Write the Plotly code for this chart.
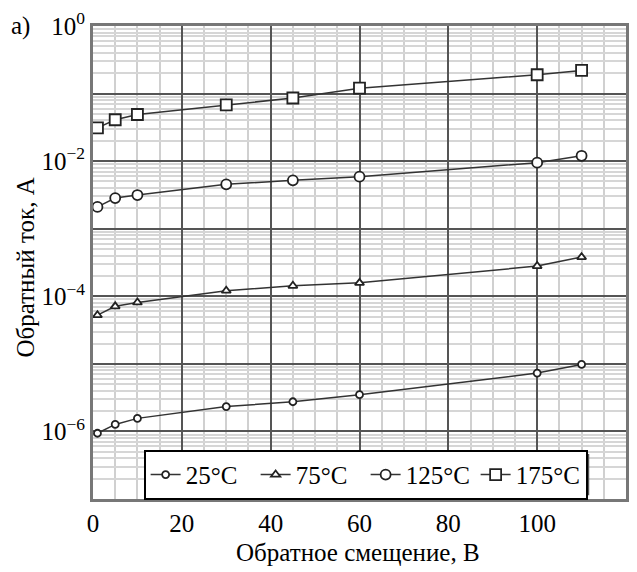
import plotly.graph_objects as go

voltage = [1, 5, 10, 30, 45, 60, 100, 110]
i_25 = [9.4e-7, 1.27e-6, 1.56e-6, 2.33e-6, 2.75e-6, 3.5e-6, 7.3e-6, 9.8e-6]
i_75 = [5.25e-5, 7.1e-5, 8.1e-5, 1.21e-4, 1.43e-4, 1.58e-4, 2.8e-4, 3.8e-4]
i_125 = [0.0021, 0.00284, 0.00315, 0.00454, 0.0052, 0.0059, 0.0095, 0.012]
i_175 = [0.031, 0.041, 0.049, 0.068, 0.086, 0.12, 0.19, 0.22]

series = [
    ("25°C", i_25, "circle", 7),
    ("75°C", i_75, "triangle-up", 8),
    ("125°C", i_125, "circle", 10),
    ("175°C", i_175, "square", 11),
]

x_ticks = [0, 20, 40, 60, 80, 100, 120]
y_tickvals = [1, 1e-1, 1e-2, 1e-3, 1e-4, 1e-5, 1e-6, 1e-7]
y_ticktext = ["10<sup>0</sup>", "", "10<sup>−2</sup>", "", "10<sup>−4</sup>", "", "10<sup>−6</sup>", ""]

SERIF = "Liberation Serif, Times New Roman, serif"
FS = 25

fig = go.Figure()
for name, vals, sym, sz in series:
    fig.add_trace(go.Scatter(
        x=voltage, y=vals, name=name, mode="lines+markers",
        line=dict(color="#333333", width=1.5),
        marker=dict(symbol=sym, size=sz, color="white",
                    line=dict(color="#222222", width=1.8)),
    ))

fig.update_layout(
    width=637, height=572,
    margin=dict(l=93, r=8, t=18, b=73),
    paper_bgcolor="white", plot_bgcolor="white",
    font=dict(family=SERIF, size=FS, color="black"),
    showlegend=True,
    legend=dict(
        orientation="h", x=0.095, y=0.104, xanchor="left", yanchor="top",
        bgcolor="white", bordercolor="black", borderwidth=2,
        font=dict(family=SERIF, size=FS, color="black"),
        itemwidth=30, tracegroupgap=0,
        entrywidth=65, entrywidthmode="pixels",
    ),
    shapes=[
        dict(type="rect", xref="paper", yref="paper", layer="above",
             x0=0.1, x1=0.931, y0=0.008, y1=0.095,
             fillcolor="#555555", line=dict(width=0)),
    ],
    xaxis=dict(
        range=[0, 120], tickvals=x_ticks, ticks="",
        showgrid=True, gridcolor="#555555", gridwidth=2,
        minor=dict(dtick=5, tick0=0, showgrid=True, gridcolor="#d0d0d0", gridwidth=2),
        showline=True, linecolor="#777777", linewidth=3, mirror=True,
        zeroline=False, tickfont=dict(family=SERIF, size=FS),
        ticklabelstandoff=0,
    ),
    yaxis=dict(
        type="log", range=[-7, 0], tickmode="array",
        tickvals=y_tickvals, ticktext=y_ticktext, ticks="",
        showgrid=True, gridcolor="#555555", gridwidth=2,
        minor=dict(dtick="D1", showgrid=True, gridcolor="#d6d6d6", gridwidth=2),
        showline=True, linecolor="#777777", linewidth=3, mirror=True,
        zeroline=False, tickfont=dict(family=SERIF, size=FS),
        ticklabelstandoff=0,
    ),
    annotations=[
        dict(text="а)", x=-0.136, y=1.0, xref="paper", yref="paper",
             xanchor="center", yanchor="middle",
             showarrow=False, font=dict(family=SERIF, size=FS)),
        dict(text="Обратный ток, А", x=-0.127, y=0.49, xref="paper", yref="paper",
             xanchor="center", yanchor="middle",
             showarrow=False, textangle=-90, font=dict(family=SERIF, size=FS)),
        dict(text="Обратное смещение, В", x=0.498, y=-0.114, xref="paper", yref="paper",
             xanchor="center", yanchor="middle",
             showarrow=False, font=dict(family=SERIF, size=FS)),
    ],
)

fig.write_html("out.html")
